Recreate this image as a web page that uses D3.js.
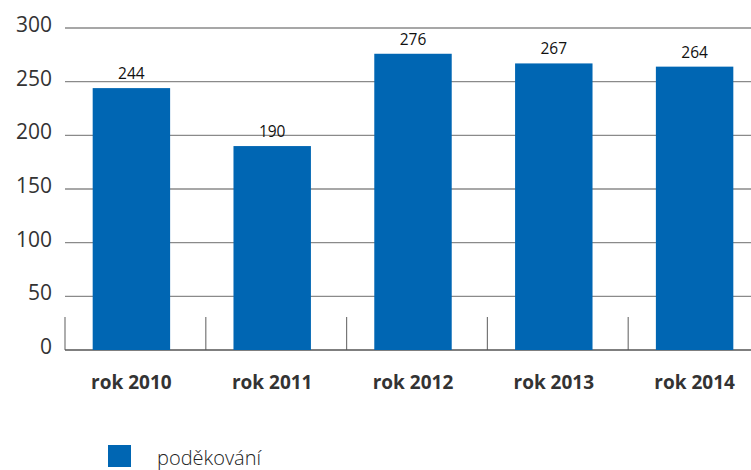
<!DOCTYPE html>
<html><head><meta charset="utf-8">
<script src="https://cdn.jsdelivr.net/npm/d3@7/dist/d3.min.js"></script>
<style>body{margin:0;background:#fff}svg{display:block}</style>
</head><body>
<svg id="c" width="751" height="470"></svg>
<script>
const categories = ["rok 2010","rok 2011","rok 2012","rok 2013","rok 2014"];
const values = [244,190,276,267,264];
const yTicks = [0,50,100,150,200,250,300];
const seriesName = "poděkování";

const svg = d3.select("#c");
const font = "'Open Sans', 'Noto Sans', sans-serif";
const x = d3.scaleBand().domain(categories).range([61,765]).paddingInner(0.45).paddingOuter(0.225);
const xs = d3.scaleBand().domain(categories).range([61,765]);
const y = d3.scaleLinear().domain([0,300]).range([350,28]);

// gridlines
svg.append("g").selectAll("line").data(yTicks.filter(t=>t>0)).join("line")
  .attr("x1",65).attr("x2",751).attr("y1",d=>y(d)).attr("y2",d=>y(d))
  .attr("stroke","#8a8a8a").attr("stroke-width",1.3);

// separators
svg.append("g").selectAll("line").data(categories).join("line")
  .attr("x1",d=>xs(d)+4).attr("x2",d=>xs(d)+4).attr("y1",317).attr("y2",y(0))
  .attr("stroke","#777").attr("stroke-width",1.2);

// baseline
svg.append("line").attr("x1",65).attr("x2",751).attr("y1",y(0)).attr("y2",y(0))
  .attr("stroke","#555").attr("stroke-width",1.3);

// y labels
svg.append("g").selectAll("text").data(yTicks).join("text")
  .attr("x",52).attr("y",d=>y(d)+4).attr("text-anchor","end")
  .attr("font-family",font).attr("font-size",21).attr("fill","#333").text(d=>d);

// bars
svg.append("g").selectAll("rect").data(values).join("rect")
  .attr("x",(d,i)=>x(categories[i])).attr("width",x.bandwidth())
  .attr("y",d=>y(d)).attr("height",d=>y(0)-y(d)).attr("fill","#0066B3");

// value labels
svg.append("g").selectAll("text").data(values).join("text")
  .attr("x",(d,i)=>x(categories[i])+x.bandwidth()/2).attr("y",d=>y(d)-9)
  .attr("text-anchor","middle").attr("font-family",font).attr("font-size",15.5)
  .attr("fill","#111").text(d=>d);

// x labels
svg.append("g").selectAll("text").data(categories).join("text")
  .attr("x",d=>x(d)+x.bandwidth()/2).attr("y",389).attr("text-anchor","middle")
  .attr("font-family",font).attr("font-size",19).attr("font-weight","bold")
  .attr("fill","#333").text(d=>d);

// legend
svg.append("rect").attr("x",108).attr("y",445).attr("width",23).attr("height",22).attr("fill","#0066B3");
svg.append("text").attr("x",157).attr("y",465).attr("font-family",font).attr("font-size",20)
  .attr("font-weight",300).attr("fill","#222").text(seriesName);
</script>
</body></html>
